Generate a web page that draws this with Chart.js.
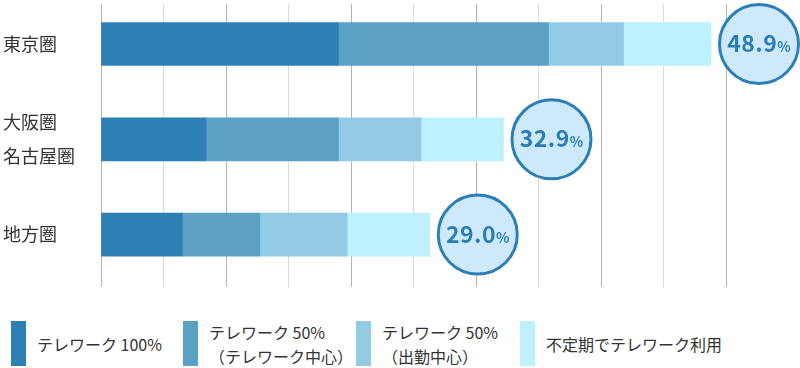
<!DOCTYPE html>
<html lang="ja">
<head>
<meta charset="utf-8">
<script src="https://cdn.jsdelivr.net/npm/chart.js@4"></script>
<style>
    body { margin: 0; width: 800px; height: 368px; overflow: hidden; background: #fff; font-family: "Noto Sans CJK JP", "Noto Sans", sans-serif; }
    .chart-box { position: absolute; left: 0; top: 0; width: 800px; height: 300px; }
    .legend { position: absolute; top: 321px; left: 0; width: 800px; height: 45px; color: #333; font-size: 16px; }
    .legend .item { position: absolute; top: 0; height: 45px; }
    .legend .swatch { position: absolute; left: 0; top: 0; width: 15px; height: 45px; }
    .legend .text { position: absolute; left: 26px; top: 0; height: 45px; display: flex; flex-direction: column; justify-content: center; white-space: nowrap; line-height: 24px; }
</style>
</head>
<body>
<div class="chart-box"><canvas id="teleworkChart" width="800" height="300"></canvas></div>
<div class="legend" id="legend"></div>

<script>
// データ
const regions = ['東京圏', ['大阪圏', '名古屋圏'], '地方圏'];
const seriesNames = [['テレワーク 100%'], ['テレワーク 50%', '（テレワーク中心）'], ['テレワーク 50%', '（出勤中心）'], ['不定期でテレワーク利用']];
const full100 = [19.0, 8.4, 6.5];
const half50Tele = [16.8, 10.6, 6.2];
const half50Office = [6.0, 6.6, 7.0];
const irregular = [7.0, 6.6, 6.6];
const totals = ['48.9', '32.9', '29.0'];
const xTicks = [0, 5, 10, 15, 20, 25, 30, 35, 40, 45, 50];

const colors = ['#2c80b5', '#5ba1c3', '#93cbe4', '#bff0fe'];
const seriesValues = [full100, half50Tele, half50Office, irregular];

// 凡例 (HTML)
const legendLeft = [11, 183, 356, 520];
const legend = document.getElementById('legend');
seriesNames.forEach((name, i) => {
    const item = document.createElement('div');
    item.className = 'item';
    item.style.left = legendLeft[i] + 'px';
    item.innerHTML = '<div class="swatch" style="background:' + colors[i] + '"></div>' +
        '<div class="text">' + name.map(l => '<span>' + l + '</span>').join('') + '</div>';
    legend.appendChild(item);
});

// 合計値の吹き出し
const totalBubbles = {
    id: 'totalBubbles',
    afterDatasetsDraw(chart) {
        const ctx = chart.ctx;
        const meta = chart.getDatasetMeta(chart.data.datasets.length - 1);
        meta.data.forEach((bar, i) => {
            const cx = bar.x + 48;
            const cy = bar.y;
            ctx.save();
            ctx.beginPath();
            ctx.arc(cx, cy, 39.5, 0, Math.PI * 2);
            ctx.fillStyle = '#cfe9fc';
            ctx.fill();
            ctx.lineWidth = 3;
            ctx.strokeStyle = '#2c7fb6';
            ctx.stroke();

            const big = 'bold 23px "Noto Sans CJK JP", "Noto Sans", sans-serif';
            const small = 'bold 14px "Noto Sans CJK JP", "Noto Sans", sans-serif';
            ctx.letterSpacing = '0.5px';
            ctx.font = big;
            const w1 = ctx.measureText(totals[i]).width;
            ctx.letterSpacing = '0px';
            ctx.font = small;
            const w2 = ctx.measureText('%').width;
            const start = cx - (w1 + w2) / 2;
            ctx.fillStyle = '#2a7db5';
            ctx.textBaseline = 'alphabetic';
            ctx.textAlign = 'left';
            ctx.letterSpacing = '0.5px';
            ctx.font = big;
            ctx.fillText(totals[i], start, cy + 8);
            ctx.letterSpacing = '0px';
            ctx.font = small;
            ctx.fillText('%', start + w1, cy + 8);
            ctx.restore();
        });
    }
};

const ctx = document.getElementById('teleworkChart').getContext('2d');
new Chart(ctx, {
    type: 'bar',
    data: {
        datasets: seriesValues.map((vals, s) => ({
            label: seriesNames[s].join(''),
            data: vals.map((v, i) => ({ x: v, y: i })),
            backgroundColor: colors[s],
            borderWidth: 0,
            barThickness: 43
        }))
    },
    options: {
        indexAxis: 'y',
        responsive: false,
        animation: false,
        layout: { padding: { top: 4, bottom: 13, left: 3, right: 74 } },
        scales: {
            x: {
                type: 'linear',
                stacked: true,
                min: 0,
                max: 50,
                afterBuildTicks: scale => { scale.ticks = xTicks.map(v => ({ value: v })); },
                afterFit: scale => { scale.height = 0; scale.paddingLeft = 0; scale.paddingRight = 0; },
                ticks: { display: false },
                grid: {
                    drawTicks: false,
                    color: c => (c.tick && c.tick.value % 10 === 0) ? '#b3b3b3' : '#d9d9d9'
                },
                border: { display: false }
            },
            y: {
                type: 'linear',
                stacked: true,
                reverse: true,
                offset: false,
                min: -0.42,
                max: 2.55,
                afterBuildTicks: scale => { scale.ticks = regions.map((r, i) => ({ value: i })); },
                afterFit: scale => { scale.width = 98; scale.paddingTop = 0; scale.paddingBottom = 0; },
                ticks: {
                    crossAlign: 'far',
                    color: '#333',
                    font: { size: 18, family: '"Noto Sans CJK JP", "Noto Sans", sans-serif', lineHeight: 1.9 },
                    callback: value => regions[value]
                },
                grid: { display: false, offset: false },
                border: { display: false }
            }
        },
        plugins: {
            legend: { display: false },
            tooltip: { enabled: false }
        }
    },
    plugins: [totalBubbles]
});
</script>
</body>
</html>
